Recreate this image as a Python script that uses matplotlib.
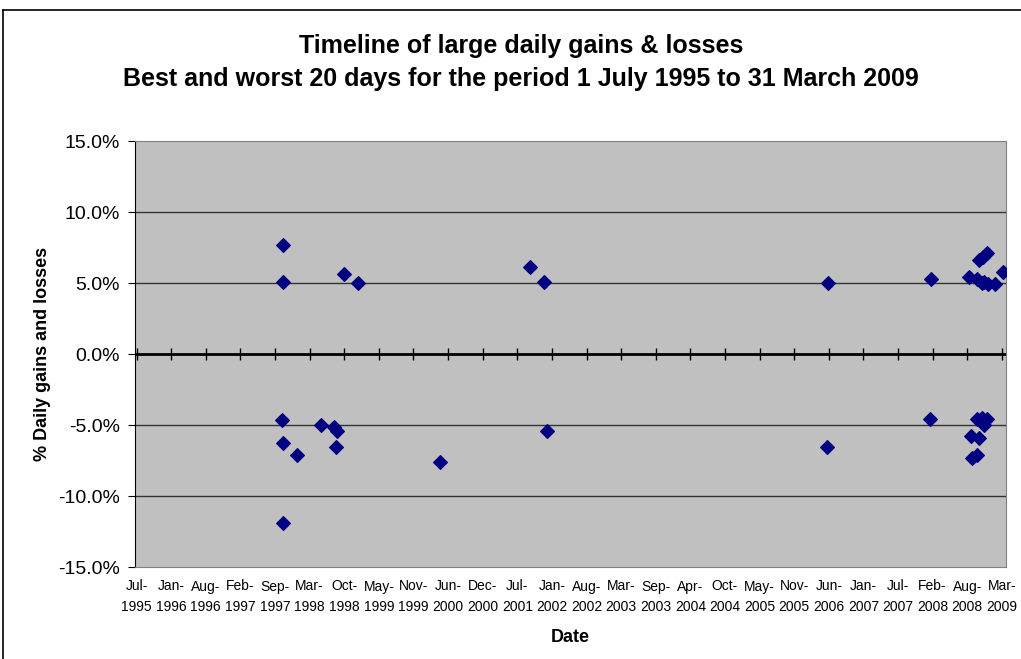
import numpy as np
import pandas as pd
import matplotlib
matplotlib.use('Agg')
from matplotlib import pyplot as plt
import matplotlib.dates as mdates
from matplotlib.lines import Line2D
from matplotlib.ticker import FuncFormatter

plt.rcParams['font.family'] = ['Liberation Sans', 'DejaVu Sans']

# best 20 days (daily gain, %)
gain_dates = ['1997-10-28', '1997-10-29', '1998-10-12', '1999-01-04', '2001-09-21',
              '2001-12-13', '2006-06-09', '2008-01-27', '2008-09-03', '2008-10-18',
              '2008-10-29', '2008-11-16', '2008-11-21', '2008-11-27', '2008-12-14',
              '2008-12-20', '2009-01-29', '2009-03-16']
gain_values = [7.7, 5.1, 5.65, 4.98, 6.15,
               5.05, 5.02, 5.28, 5.4, 5.3,
               6.6, 5.0, 6.8, 5.1, 7.1,
               4.9, 4.9, 5.8]

# worst 20 days (daily loss, %)
loss_dates = ['1997-10-24', '1997-10-27', '1997-10-28', '1998-01-17', '1998-06-04',
              '1998-08-16', '1998-09-01', '1998-09-05', '2000-04-23', '2001-12-28',
              '2006-06-06', '2008-01-20', '2008-09-14', '2008-09-20', '2008-10-18',
              '2008-10-18', '2008-10-29', '2008-11-16', '2008-11-27', '2008-12-14']
loss_values = [-4.67, -6.24, -11.92, -7.11, -5.0,
               -5.12, -6.53, -5.4, -7.6, -5.42,
               -6.53, -4.58, -5.8, -7.3, -7.1,
               -4.6, -5.9, -4.5, -5.0, -4.6]

axis_start = pd.Timestamp('1995-07-04')
tick_dates = axis_start + pd.to_timedelta(np.arange(26) * 200, unit='D')
tick_labels = [d.strftime('%b-\n%Y') for d in tick_dates]

fig = plt.figure(figsize=(10.21, 6.59), dpi=100)
ax = fig.add_axes([135 / 1021, 1 - 567 / 659, (1006 - 135) / 1021, (567 - 141) / 659])
ax.set_facecolor('#C0C0C0')

ax.scatter(pd.to_datetime(gain_dates), gain_values, marker='D', s=48, color='#000080', zorder=3)
ax.scatter(pd.to_datetime(loss_dates), loss_values, marker='D', s=48, color='#000080', zorder=3)

ax.set_ylim(-15, 15)
ax.set_yticks(np.arange(-15, 16, 5))
ax.yaxis.set_major_formatter(FuncFormatter(lambda v, p: f'{v:.1f}%'))
for y in [-10, -5, 5, 10]:
    ax.axhline(y, color='#333333', lw=1, zorder=1)
ax.axhline(0, color='black', lw=2, zorder=2)

ax.set_xlim(mdates.date2num(axis_start - pd.Timedelta(days=9)),
            mdates.date2num(axis_start + pd.Timedelta(days=5024)))
ax.set_xticks(mdates.date2num(tick_dates))
ax.set_xticklabels(tick_labels, fontsize=10, linespacing=1.55)
ax.tick_params(axis='x', length=0, pad=9)
ax.tick_params(axis='y', direction='out', length=5, labelsize=14, pad=6, color='black')

# tick marks across the zero line
sec = ax.secondary_xaxis(0.5)
sec.set_xticks(mdates.date2num(tick_dates))
sec.set_xticklabels([])
sec.tick_params(direction='inout', length=8, width=1)
sec.spines['top'].set_visible(False)
sec.spines['bottom'].set_visible(False)

for side in ['top', 'right', 'bottom']:
    ax.spines[side].set_color('#808080')
ax.spines['left'].set_color('black')

ax.set_ylabel('% Daily gains and losses', fontsize=13, fontweight='bold', labelpad=5)
ax.set_xlabel('Date', fontsize=13, fontweight='bold', labelpad=11)

fig.text(0.51, 1 - 46 / 659, 'Timeline of large daily gains & losses',
         ha='center', va='center', fontsize=18, fontweight='bold')
fig.text(0.51, 1 - 79 / 659, 'Best and worst 20 days for the period 1 July 1995 to 31 March 2009',
         ha='center', va='center', fontsize=18, fontweight='bold')

# chart border
fig.add_artist(Line2D([3 / 1021, 3 / 1021], [0, 1 - 10 / 659], color='black', lw=1.2))
fig.add_artist(Line2D([3 / 1021, 1], [1 - 10 / 659, 1 - 10 / 659], color='black', lw=1.2))

plt.savefig('out.png', dpi=100)
plt.close()
